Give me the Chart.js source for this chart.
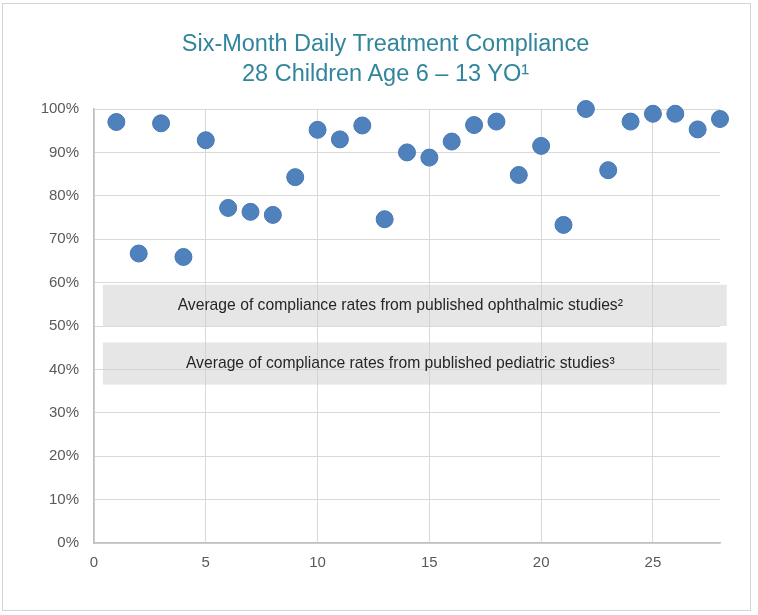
<!DOCTYPE html>
<html>
<head>
<meta charset="utf-8">
<script src="https://cdn.jsdelivr.net/npm/chart.js@4/dist/chart.umd.min.js"></script>
<style>
  html, body { margin: 0; padding: 0; background: #ffffff; }
  body { width: 758px; height: 615px; position: relative; overflow: hidden; font-family: "Liberation Sans", Arial, sans-serif; }
  #frame { position: absolute; left: 2px; top: 3px; width: 749px; height: 608px; border: 1px solid #d4d4d4; box-sizing: border-box; }
  #title { position: absolute; left: 0; top: 28px; width: 771px; text-align: center; color: #31859c; font-size: 23.5px; line-height: 30px; }
  #wrap { position: absolute; left: 0; top: 0; width: 758px; height: 615px; }
</style>
</head>
<body>
<div id="frame"></div>
<div id="wrap"><canvas id="c" width="758" height="615"></canvas></div>
<div id="title"><div>Six-Month Daily Treatment Compliance</div><div>28 Children Age 6 – 13 YO¹</div></div>
<script>
// ---- Data ----
const titleLines = ["Six-Month Daily Treatment Compliance", "28 Children Age 6 – 13 YO¹"];
const subjects = [1,2,3,4,5,6,7,8,9,10,11,12,13,14,15,16,17,18,19,20,21,22,23,24,25,26,27,28];
const compliance = [97.0, 66.7, 96.7, 65.9, 92.8, 77.2, 76.3, 75.6, 84.3, 95.2, 93.0, 96.2, 74.6, 90.0,
                    88.8, 92.5, 96.3, 97.1, 84.8, 91.5, 73.3, 100.0, 85.9, 97.1, 98.9, 98.9, 95.3, 97.7];
const bandLabels = ["Average of compliance rates from published ophthalmic studies²",
                    "Average of compliance rates from published pediatric studies³"];
const bandLow = [50.0, 36.5];
const bandHigh = [59.5, 46.2];
const xTicks = [0, 5, 10, 15, 20, 25];
const yTicks = [0, 10, 20, 30, 40, 50, 60, 70, 80, 90, 100];

const bandPlugin = {
  id: 'bands',
  beforeDatasetsDraw(chart, args, opts) {
    const {ctx, scales: {x, y}} = chart;
    ctx.save();
    for (let i = 0; i < bandLabels.length; i++) {
      const left = x.getPixelForValue(opts.xFrom);
      const right = x.getPixelForValue(opts.xTo);
      const top = y.getPixelForValue(bandHigh[i]);
      const bottom = y.getPixelForValue(bandLow[i]);
      ctx.fillStyle = 'rgba(205,205,205,0.5)';
      ctx.fillRect(left, top, right - left, bottom - top);
      ctx.fillStyle = '#262626';
      ctx.font = '15.7px "Liberation Sans", Arial, sans-serif';
      ctx.textAlign = 'center';
      ctx.textBaseline = 'middle';
      ctx.fillText(bandLabels[i], x.getPixelForValue(opts.textX), (top + bottom) / 2);
    }
    ctx.restore();
  }
};

new Chart(document.getElementById('c'), {
  type: 'scatter',
  data: {
    datasets: [{
      data: subjects.map((s, i) => ({x: s, y: compliance[i]})),
      backgroundColor: '#4f81bd',
      borderColor: '#4677b3',
      borderWidth: 1,
      pointRadius: 8.5,
      pointHoverRadius: 8.5,
      clip: false
    }]
  },
  options: {
    responsive: false,
    animation: false,
    layout: { padding: { top: 109, right: 38, bottom: 0, left: 0 } },
    plugins: {
      legend: { display: false },
      title: { display: false },
      tooltip: { enabled: false },
      bands: { xFrom: 0.4, xTo: 28.3, textX: 13.7 }
    },
    scales: {
      x: {
        type: 'linear', min: 0, max: 28,
        afterBuildTicks(s) { s.ticks = xTicks.map(v => ({value: v})); },
        afterFit(s) { s.height = 72; },
        grid: { color: '#d9d9d9', drawTicks: false, tickLength: 0, lineWidth: 1 },
        border: { color: '#bfbfbf', width: 1.5 },
        ticks: { color: '#595959', padding: 11, font: { size: 15, family: '"Liberation Sans", Arial, sans-serif' }, maxRotation: 0 }
      },
      y: {
        type: 'linear', min: 0, max: 100,
        afterBuildTicks(s) { s.ticks = yTicks.map(v => ({value: v})); },
        afterFit(s) { s.width = 94; },
        grid: { color: '#d9d9d9', drawTicks: false, tickLength: 0, lineWidth: 1 },
        border: { color: '#bfbfbf', width: 1.5 },
        ticks: { color: '#595959', padding: 15, font: { size: 15, family: '"Liberation Sans", Arial, sans-serif' }, callback: v => v + '%' }
      }
    }
  },
  plugins: [bandPlugin]
});
</script>
</body>
</html>
